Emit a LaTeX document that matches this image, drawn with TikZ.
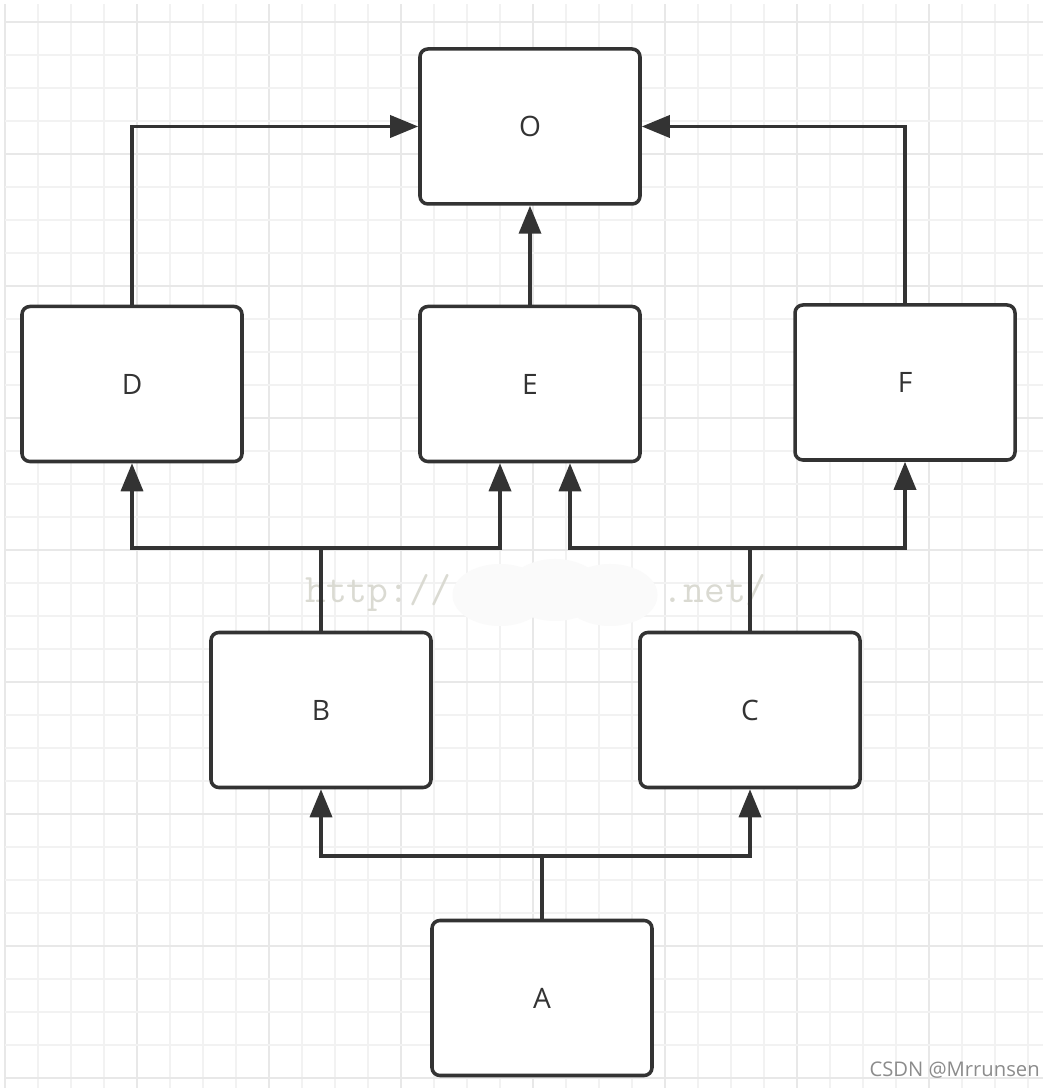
\documentclass[tikz,border=0pt]{standalone}
\usepackage{fontspec}
\usepackage{tikz}
\usetikzlibrary{arrows.meta,positioning}
\setsansfont{Open Sans}
\definecolor{ink}{HTML}{333333}
\definecolor{gridminor}{HTML}{F2F2F2}
\definecolor{gridmajor}{HTML}{E8E8E8}
\definecolor{mark}{HTML}{DADAD2}
\definecolor{sign}{HTML}{8C8C8C}

\tikzset{
  block/.style={draw=ink,line width=2pt,rounded corners=4.5pt,fill=white,
                minimum width=4.4cm,minimum height=3.1cm,
                font=\sffamily\fontsize{16}{19}\selectfont,text=ink},
  wire/.style={draw=ink,line width=2pt},
  feed/.style={wire,-{Triangle[length=0.56cm,width=0.44cm]}}
}

\begin{document}
\begin{tikzpicture}
  \useasboundingbox (0,0) rectangle (21.08,21.76);
  \fill[white] (0,0) rectangle (21.08,21.76);
  % squared paper
  \foreach \k in {0,...,31}{
    \pgfmathtruncatemacro{\isbig}{mod(\k,4)==0}
    \ifnum\isbig=1 \def\gc{gridmajor}\else\def\gc{gridminor}\fi
    \draw[\gc,line width=1pt] ({0.1+0.66*\k},0) -- ({0.1+0.66*\k},21.68);
  }
  \foreach \k in {0,...,32}{
    \pgfmathtruncatemacro{\isbig}{mod(\k,4)==0}
    \ifnum\isbig=1 \def\gc{gridmajor}\else\def\gc{gridminor}\fi
    \draw[\gc,line width=1pt] (0.1,{21.32-0.66*\k}) -- (20.86,{21.32-0.66*\k});
  }

  % watermark
  \fill[white!96!gray] (10.0,9.86) ellipse (0.95cm and 0.62cm);
  \fill[white!96!gray] (11.1,9.96) ellipse (0.95cm and 0.62cm);
  \fill[white!96!gray] (12.2,9.86) ellipse (0.95cm and 0.62cm);
  \node[anchor=base west,inner sep=0pt,text=mark,font=\ttfamily\fontsize{23}{26}\selectfont]
    (wmleft) at (6.1,9.7) {http://};
  \node[anchor=base east,inner sep=0pt,text=mark,font=\ttfamily\fontsize{23}{26}\selectfont]
    (wmright) at (15.34,9.7) {.net/};

  \node[block] (O) at (10.6,19.23) {O};
  \node[block] (D) at (2.64,14.08) {D};
  \node[block] (E) at (10.6,14.08) {E};
  \node[block] (F) at (18.1,14.11) {F};
  \node[block] (B) at (6.42,7.56) {B};
  \node[block] (C) at (15.0,7.56) {C};
  \node[block] (A) at (10.84,1.8) {A};

  \coordinate (splitA) at (10.84,4.64);
  \coordinate (splitB) at (6.42,10.8);
  \coordinate (splitC) at (15.0,10.8);

  \draw[wire] (A.north) -- (splitA);
  \draw[feed] (splitA) -| (B.south);
  \draw[feed] (splitA) -| (C.south);

  \draw[wire] (B.north) -- (splitB);
  \draw[feed] (splitB) -| (D.south);
  \draw[feed] (splitB) -| ([xshift=-0.6cm]E.south);

  \draw[wire] (C.north) -- (splitC);
  \draw[feed] (splitC) -| ([xshift=0.8cm]E.south);
  \draw[feed] (splitC) -| (F.south);

  \draw[feed] (D.north) |- (O.west);
  \draw[feed] (E.north) -- (O.south);
  \draw[feed] (F.north) |- (O.east);

  \node[anchor=base east,inner sep=0pt,text=sign,font=\sffamily\fontsize{11.5}{14}\selectfont]
    (credit) at (20.8,0.24) {CSDN @Mrrunsen};
\end{tikzpicture}
\end{document}
